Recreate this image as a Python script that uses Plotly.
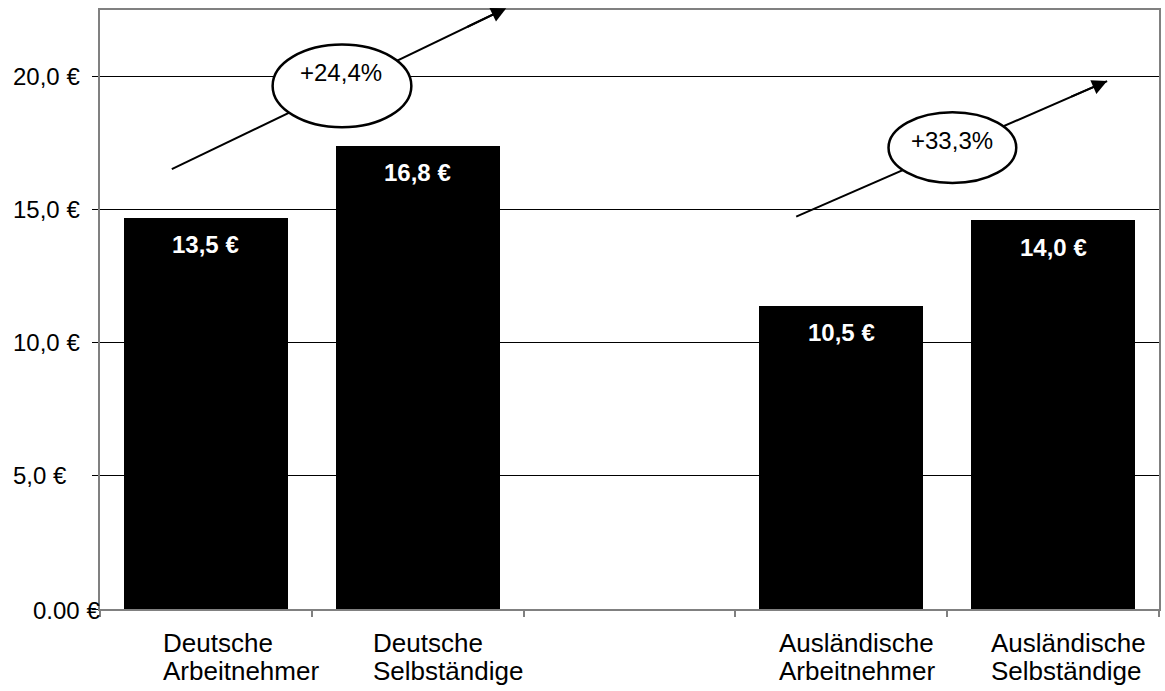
import plotly.graph_objects as go

# ---------------- data ----------------
category_line1 = ["Deutsche", "Deutsche", "", "Ausländische", "Ausländische"]
category_line2 = ["Arbeitnehmer", "Selbständige", "", "Arbeitnehmer", "Selbständige"]
bar_values = [14.7, 17.4, None, 11.4, 14.6]          # bar heights as drawn
bar_labels = ["13,5 €", "16,8 €", "", "10,5 €", "14,0 €"]  # value labels as printed
ytick_vals = [0, 5, 10, 15, 20]
ytick_labels = ["0.00 €", "5,0 €", "10,0 €", "15,0 €", "20,0 €"]
growth_labels = ["+24,4%", "+33,3%"]

# ---------------- styling / layout helpers ----------------
FONT = "Liberation Sans, Arial, sans-serif"
AXIS_GREY = "#808080"
label_xshift = [-45, -47, 0, -64, -64]

x_idx = list(range(len(category_line1)))
bx = [i for i, v in zip(x_idx, bar_values) if v is not None]
by = [v for v in bar_values if v is not None]

fig = go.Figure()
fig.add_trace(go.Bar(x=bx, y=by, width=0.773, marker=dict(color="black", line=dict(width=0)),
                     hoverinfo="skip", showlegend=False))

annotations = []
# value labels inside bars
for i, (v, t) in enumerate(zip(bar_values, bar_labels)):
    if v is None:
        continue
    annotations.append(dict(x=i, y=v, xref="x", yref="y", text=f"<b>{t}</b>", showarrow=False,
                            yanchor="middle", xanchor="center", yshift=-27,
                            font=dict(family=FONT, size=24, color="white")))
# category labels (two left-aligned lines)
for i, (l1, l2) in enumerate(zip(category_line1, category_line2)):
    if not l1:
        continue
    for line, ys in ((l1, -34), (l2, -62)):
        annotations.append(dict(x=i, y=0, xref="x", yref="paper", text=line, showarrow=False,
                                xanchor="left", yanchor="middle", xshift=label_xshift[i], yshift=ys,
                                font=dict(family=FONT, size=26, color="black")))
# y tick labels
for v, t in zip(ytick_vals, ytick_labels):
    if v == 0:
        annotations.append(dict(x=0, y=v, xref="paper", yref="y", text=t, showarrow=False,
                                xanchor="right", yanchor="middle", xshift=2, yshift=-1,
                                font=dict(family=FONT, size=24, color="black")))
    else:
        annotations.append(dict(x=0, y=v, xref="paper", yref="y", text=t, showarrow=False,
                                xanchor="left", yanchor="middle", xshift=-89,
                                font=dict(family=FONT, size=24, color="black")))

# growth arrows with ellipses (decoration)
arrows = [((-0.161, 16.52), (1.418, 22.57)), ((2.787, 14.74), (4.255, 19.83))]
ellipses = [(0.315, 18.1, 0.970, 21.2), (3.223, 16.0, 3.826, 18.66)]
text_pos = [(0.639, 20.15), (3.524, 17.61)]

shapes = []
for (s, e) in arrows:
    shapes.append(dict(type="line", xref="x", yref="y", x0=s[0], y0=s[1], x1=e[0], y1=e[1],
                       line=dict(color="black", width=2), layer="above"))
for (x0, y0, x1, y1) in ellipses:
    shapes.append(dict(type="circle", xref="x", yref="y", x0=x0, y0=y0, x1=x1, y1=y1,
                       fillcolor="white", line=dict(color="black", width=2.5), layer="above"))
for (s, e) in arrows:
    ax = e[0] + (s[0] - e[0]) * 0.12
    ay = e[1] + (s[1] - e[1]) * 0.12
    annotations.append(dict(x=e[0], y=e[1], xref="x", yref="y", ax=ax, ay=ay, axref="x", ayref="y",
                            text="", showarrow=True, arrowhead=2, arrowsize=1.5, arrowwidth=2,
                            arrowcolor="black", standoff=0, startstandoff=0))
for (tx, ty), t in zip(text_pos, growth_labels):
    annotations.append(dict(x=tx, y=ty, xref="x", yref="y", text=t, showarrow=False,
                            xanchor="center", yanchor="middle",
                            font=dict(family=FONT, size=24, color="black")))

fig.update_layout(
    width=1165, height=691,
    margin=dict(l=100, r=4, t=10, b=82),
    paper_bgcolor="white", plot_bgcolor="white",
    showlegend=False,
    font=dict(family=FONT, color="black"),
    xaxis=dict(range=[-0.5, 4.5], tickvals=[-0.5, 0.5, 1.5, 2.5, 3.5, 4.5], showticklabels=False,
               ticks="outside", ticklen=6, tickcolor=AXIS_GREY, tickwidth=1.5,
               showgrid=False, zeroline=False, showline=True, linecolor=AXIS_GREY, linewidth=2,
               mirror=True, fixedrange=True),
    yaxis=dict(range=[0, 22.5], tickvals=ytick_vals, showticklabels=False,
               ticks="outside", ticklen=6, tickcolor="black", tickwidth=1,
               showgrid=True, gridcolor="black", gridwidth=1, zeroline=False,
               showline=True, linecolor=AXIS_GREY, linewidth=2, mirror=True, fixedrange=True),
    shapes=shapes,
    annotations=annotations,
    bargap=0,
)

fig.write_html("out.html", config={"displayModeBar": False},
               post_script="document.body.style.margin='0px';document.body.style.overflow='hidden';")
